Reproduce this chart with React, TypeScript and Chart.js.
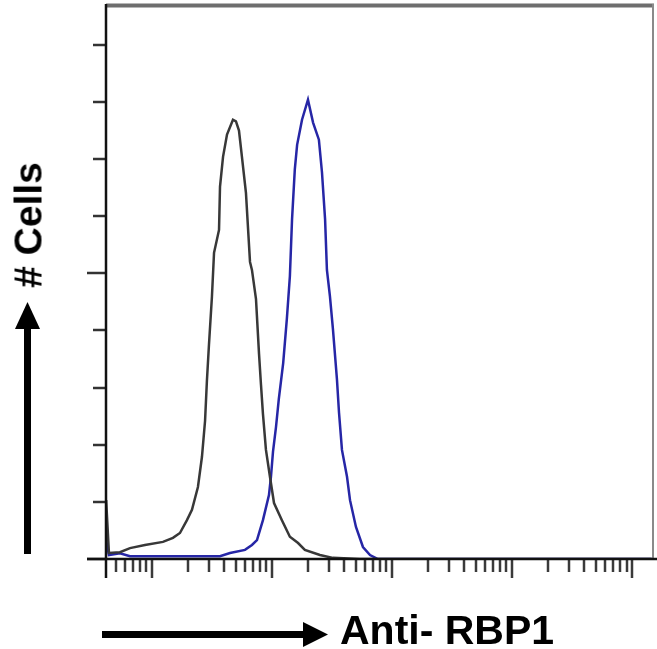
import React, { useEffect, useRef } from "react";
import { Chart, registerables } from "chart.js";

Chart.register(...registerables);

// Fluorescence intensity (log scale) and cell counts (arbitrary units)
const controlX = [0.415, 0.438, 0.541, 0.656, 0.874, 1.235, 1.496, 1.711, 1.957, 2.154, 2.416, 2.61, 2.77, 2.87, 2.985, 3.16, 3.29, 3.62, 3.69, 3.91, 4.22, 4.73, 5.01, 5.31, 5.62, 6.07, 6.56, 6.81, 7.36, 7.8, 8.1, 8.41, 8.91, 9.62, 10.4, 12.1, 14.1, 16.5, 18.8, 25.1, 32.2, 54, 14600];
const controlY = [1.03, 0.105, 0.12, 0.19, 0.245, 0.3, 0.37, 0.455, 0.68, 0.86, 1.26, 1.79, 2.42, 3.12, 3.75, 4.59, 5.36, 5.76, 6.52, 7.04, 7.43, 7.69, 7.66, 7.5, 7.04, 6.41, 5.2, 5.06, 4.55, 3.59, 3.05, 2.54, 1.91, 1.44, 0.98, 0.68, 0.39, 0.28, 0.16, 0.07, 0.02, 0, 0];

const rbp1X = [0.415, 0.438, 0.541, 0.656, 1.28, 3.69, 4.47, 5.96, 6.81, 7.5, 8.41, 9.44, 9.81, 10.2, 10.8, 11.4, 12.4, 13.3, 14.1, 14.7, 15.5, 16.2, 17.8, 19.95, 22.0, 24.6, 26.1, 27.7, 28.7, 30.4, 32.2, 34.8, 36.2, 38.3, 42.2, 44.7, 50.1, 57.3, 65.6, 76.4, 14600];
const rbp1Y = [0.33, 0.07, 0.1, 0.05, 0.05, 0.05, 0.105, 0.16, 0.245, 0.33, 0.68, 1.12, 1.44, 1.88, 2.31, 2.8, 3.43, 4.2, 4.95, 5.95, 6.82, 7.25, 7.69, 8.04, 7.64, 7.34, 6.77, 5.95, 5.06, 4.6, 4.03, 3.14, 2.56, 1.91, 1.44, 1.03, 0.56, 0.21, 0.07, 0, 0];

const xMin = 0.414;
const xMax = 14678;
const yMax = 9.68;
const yTicks = [0, 1, 2, 3, 4, 5, 6, 7, 8, 9];
const yMajorTicks = [0, 5];
const xDecades = [-1, 0, 1, 2, 3, 4];

const xLabel = "Anti- RBP1";
const yLabel = "# Cells";

const framePlugin = {
  id: "frame",
  afterDraw(chart: any) {
    const ctx = chart.ctx as CanvasRenderingContext2D;
    const { left, right, top, bottom } = chart.chartArea;
    const xs = chart.scales.x;
    const ys = chart.scales.y;
    ctx.save();
    ctx.lineCap = "butt";
    // top border
    ctx.strokeStyle = "#6e6e6e";
    ctx.lineWidth = 4;
    ctx.beginPath();
    ctx.moveTo(left, top - 0.5);
    ctx.lineTo(right + 2, top - 0.5);
    ctx.stroke();
    // right border
    ctx.strokeStyle = "#8a8a8a";
    ctx.lineWidth = 2;
    ctx.beginPath();
    ctx.moveTo(right + 1, top - 2);
    ctx.lineTo(right + 1, bottom);
    ctx.stroke();
    // y ticks
    ctx.strokeStyle = "#333";
    ctx.lineWidth = 2.5;
    yTicks.forEach((v) => {
      const y = Math.round(ys.getPixelForValue(v));
      const len = yMajorTicks.includes(v) ? 19 : 13;
      ctx.beginPath();
      ctx.moveTo(left - len, y);
      ctx.lineTo(left, y);
      ctx.stroke();
    });
    // x ticks
    ctx.strokeStyle = "#3a3a3a";
    xDecades.forEach((d) => {
      for (let m = 1; m <= 9; m++) {
        const v = m * Math.pow(10, d);
        if (v < xMin || v > xMax) continue;
        const x = Math.round(xs.getPixelForValue(v));
        const len = m === 1 ? 19 : 13;
        ctx.beginPath();
        ctx.moveTo(x, bottom);
        ctx.lineTo(x, bottom + len);
        ctx.stroke();
      }
    });
    // axes
    ctx.strokeStyle = "#111";
    ctx.lineWidth = 2.5;
    ctx.beginPath();
    ctx.moveTo(left, top - 2);
    ctx.lineTo(left, bottom + 19);
    ctx.stroke();
    ctx.beginPath();
    ctx.moveTo(left - 19, bottom);
    ctx.lineTo(chart.width, bottom);
    ctx.stroke();
    // arrows
    ctx.fillStyle = "#000";
    ctx.fillRect(24, 326, 7, 228);
    ctx.beginPath();
    ctx.moveTo(27.5, 302);
    ctx.lineTo(40, 329);
    ctx.lineTo(15, 329);
    ctx.closePath();
    ctx.fill();
    ctx.fillRect(102, 631, 203, 7);
    ctx.beginPath();
    ctx.moveTo(328, 634.5);
    ctx.lineTo(303, 622);
    ctx.lineTo(303, 647);
    ctx.closePath();
    ctx.fill();
    ctx.restore();
  },
};

export default function App() {
  const ref = useRef<HTMLCanvasElement | null>(null);
  useEffect(() => {
    if (!ref.current) return;
    const chart = new Chart(ref.current, {
      type: "line",
      data: {
        datasets: [
          {
            label: "Control",
            data: controlX.map((x, i) => ({ x, y: controlY[i] })),
            borderColor: "#383838",
            borderWidth: 2.5,
            pointRadius: 0,
            tension: 0,
            fill: false,
          },
          {
            label: "Anti-RBP1",
            data: rbp1X.map((x, i) => ({ x, y: rbp1Y[i] })),
            borderColor: "#2626a6",
            borderWidth: 2.5,
            pointRadius: 0,
            tension: 0,
            fill: false,
          },
        ],
      },
      options: {
        responsive: false,
        maintainAspectRatio: false,
        animation: false,
        layout: { padding: { left: 106, top: 6, right: 5, bottom: 90 } },
        plugins: { legend: { display: false }, tooltip: { enabled: false } },
        scales: {
          x: { type: "logarithmic", min: xMin, max: xMax, display: false },
          y: { type: "linear", min: 0, max: yMax, display: false },
        },
      },
      plugins: [framePlugin],
    });
    return () => chart.destroy();
  }, []);

  const font = '"Liberation Sans", Arial, sans-serif';
  return (
    <div style={{ position: "absolute", left: 0, top: 0, width: 657, height: 649, background: "#fff", overflow: "hidden" }}>
      <canvas ref={ref} width={657} height={649} style={{ display: "block" }} />
      <div
        style={{
          position: "absolute",
          left: 340,
          top: 610,
          fontFamily: font,
          fontWeight: "bold",
          fontSize: 41,
          lineHeight: 1,
          whiteSpace: "nowrap",
          color: "#000",
        }}
      >
        {xLabel}
      </div>
      <div
        style={{
          position: "absolute",
          left: 28,
          top: 225,
          fontFamily: font,
          fontWeight: "bold",
          fontSize: 39,
          lineHeight: 1,
          whiteSpace: "nowrap",
          color: "#000",
          transform: "translate(-50%, -50%) rotate(-90deg)",
        }}
      >
        {yLabel}
      </div>
    </div>
  );
}
